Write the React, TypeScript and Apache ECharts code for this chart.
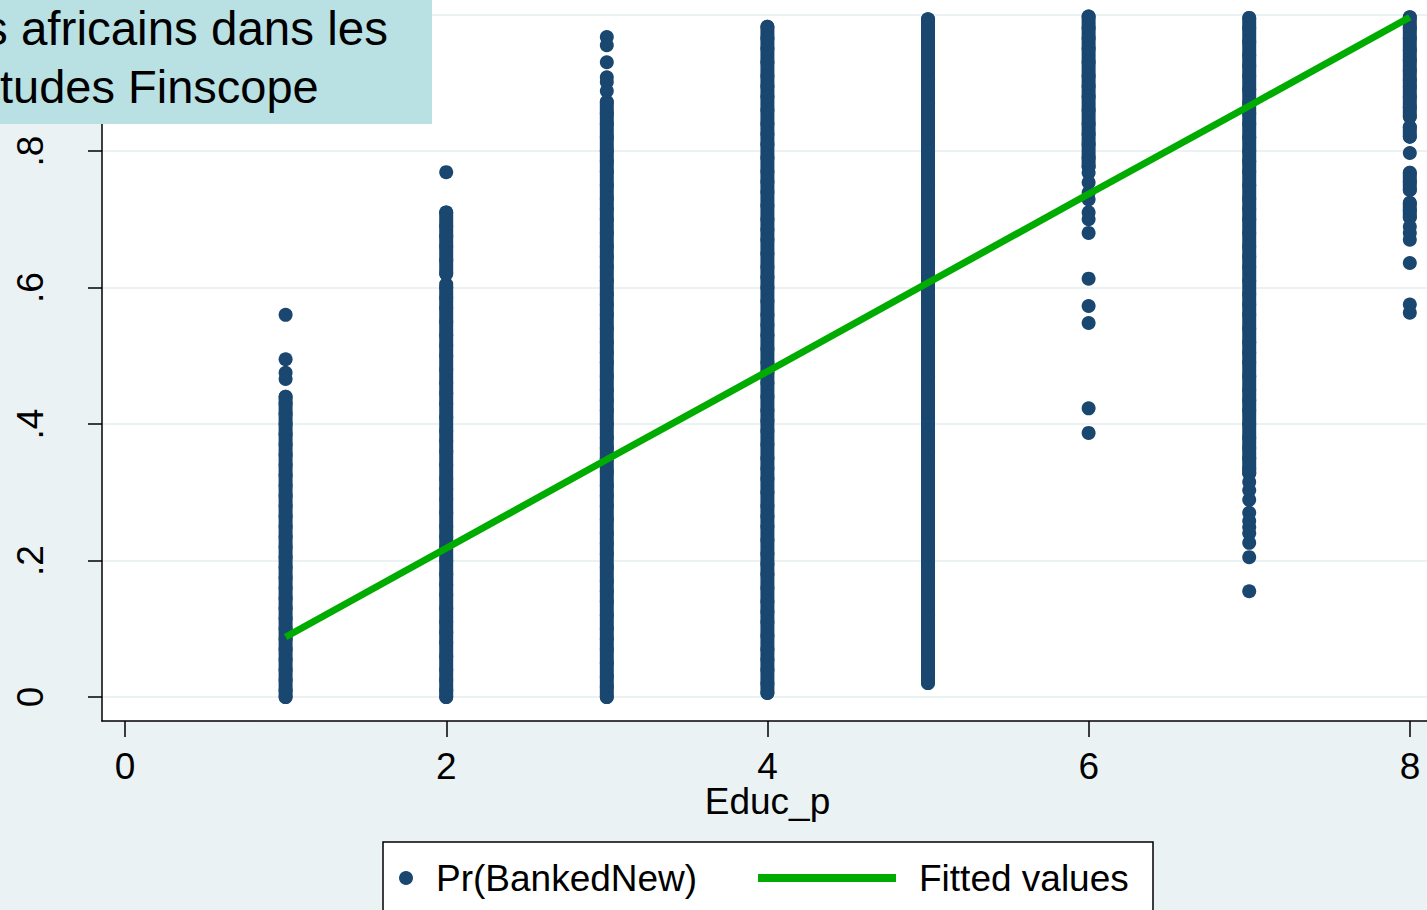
import React, { useEffect, useRef } from "react";
import * as echarts from "echarts";

// Education level categories (x positions)
const educLevels = [1, 2, 3, 4, 5, 6, 7, 8];

const prEduc1 = [0.56, 0.495, 0.475, 0.466, 0.44, 0.43, 0.415, 0.4, 0.385, 0.37, 0.355, 0.34, 0.325, 0.31, 0.295, 0.28, 0.265, 0.25, 0.235, 0.22, 0.205, 0.19, 0.175, 0.16, 0.145, 0.13, 0.115, 0.1, 0.085, 0.07, 0.055, 0.04, 0.025, 0.01, 0.0];
const prEduc2 = [0.769, 0.71, 0.69, 0.675, 0.66, 0.64, 0.62, 0.6, 0.585, 0.57, 0.55, 0.53, 0.515, 0.5, 0.48, 0.46, 0.445, 0.43, 0.41, 0.39, 0.375, 0.36, 0.34, 0.32, 0.305, 0.29, 0.27, 0.25, 0.235, 0.22, 0.2, 0.18, 0.165, 0.15, 0.13, 0.11, 0.095, 0.08, 0.06, 0.04, 0.025, 0.01, 0.0];
const prEduc3 = [0.967, 0.955, 0.93, 0.908, 0.901, 0.888, 0.872, 0.855, 0.84, 0.82, 0.8, 0.785, 0.77, 0.75, 0.73, 0.715, 0.7, 0.68, 0.66, 0.645, 0.63, 0.61, 0.59, 0.575, 0.56, 0.54, 0.52, 0.505, 0.49, 0.47, 0.45, 0.435, 0.42, 0.4, 0.38, 0.365, 0.35, 0.33, 0.31, 0.295, 0.28, 0.26, 0.24, 0.225, 0.21, 0.19, 0.17, 0.155, 0.14, 0.12, 0.1, 0.085, 0.07, 0.05, 0.03, 0.015, 0.0];
const prEduc4 = [0.982, 0.965, 0.95, 0.93, 0.91, 0.895, 0.88, 0.86, 0.84, 0.825, 0.81, 0.79, 0.77, 0.755, 0.74, 0.72, 0.7, 0.685, 0.67, 0.65, 0.63, 0.615, 0.6, 0.58, 0.56, 0.545, 0.53, 0.51, 0.49, 0.475, 0.46, 0.44, 0.42, 0.405, 0.39, 0.37, 0.35, 0.335, 0.32, 0.3, 0.28, 0.265, 0.25, 0.23, 0.21, 0.195, 0.18, 0.16, 0.14, 0.125, 0.11, 0.09, 0.07, 0.055, 0.04, 0.02, 0.006];
const prEduc5 = [0.993, 0.975, 0.96, 0.94, 0.92, 0.905, 0.89, 0.87, 0.85, 0.835, 0.82, 0.8, 0.78, 0.765, 0.75, 0.73, 0.71, 0.695, 0.68, 0.66, 0.64, 0.625, 0.61, 0.59, 0.57, 0.555, 0.54, 0.52, 0.5, 0.485, 0.47, 0.45, 0.43, 0.415, 0.4, 0.38, 0.36, 0.345, 0.33, 0.31, 0.29, 0.275, 0.26, 0.24, 0.22, 0.205, 0.19, 0.17, 0.15, 0.135, 0.12, 0.1, 0.08, 0.065, 0.05, 0.035, 0.0205];
const prEduc6 = [0.997, 0.98, 0.965, 0.95, 0.93, 0.91, 0.895, 0.88, 0.86, 0.84, 0.825, 0.81, 0.79, 0.777, 0.768, 0.754, 0.739, 0.729, 0.71, 0.7, 0.68, 0.613, 0.573, 0.548, 0.423, 0.387];
const prEduc7 = [0.995, 0.98, 0.96, 0.94, 0.925, 0.91, 0.89, 0.87, 0.855, 0.84, 0.82, 0.8, 0.785, 0.77, 0.75, 0.73, 0.715, 0.7, 0.68, 0.66, 0.645, 0.63, 0.61, 0.59, 0.575, 0.56, 0.54, 0.52, 0.505, 0.49, 0.47, 0.45, 0.435, 0.42, 0.4, 0.38, 0.365, 0.35, 0.335, 0.328, 0.315, 0.303, 0.289, 0.27, 0.258, 0.249, 0.24, 0.226, 0.205, 0.155];
const prEduc8 = [0.996, 0.98, 0.965, 0.948, 0.933, 0.918, 0.904, 0.894, 0.879, 0.864, 0.85, 0.835, 0.821, 0.797, 0.768, 0.755, 0.743, 0.724, 0.713, 0.703, 0.689, 0.68, 0.67, 0.636, 0.575, 0.563];

// Dense runs of overlapping observations (education level, lowest, highest)
const runEduc = [1, 2, 2, 3, 4, 5, 6, 7, 8, 8, 8, 8];
const runLow = [0.0, 0.0, 0.62, 0.0, 0.006, 0.0205, 0.777, 0.328, 0.85, 0.821, 0.743, 0.703];
const runHigh = [0.44, 0.605, 0.71, 0.872, 0.982, 0.993, 0.997, 0.995, 0.996, 0.835, 0.768, 0.724];

// Fitted values at each education level
const fittedValues = [0.088, 0.218, 0.348, 0.477, 0.607, 0.737, 0.866, 0.996];

// Tick labels
const xTicks = [0, 2, 4, 6, 8];
const yTickLabels: Record<string, string> = { "0": "0", "0.2": ".2", "0.4": ".4", "0.6": ".6", "0.8": ".8", "1": "1" };

const titleLines = ["s africains dans les", "tudes Finscope"];
const seriesNames = ["Pr(BankedNew)", "Fitted values"];
const xName = "Educ_p";

const FONT = "'Liberation Sans', Arial, sans-serif";
const NAVY = "#1a476f";
const GREEN = "#00ac00";
const BG = "#eaf2f3";
const MARKER = 14;

export default function App() {
  const ref = useRef<HTMLDivElement>(null);
  useEffect(() => {
    if (!ref.current) return;
    const chart = echarts.init(ref.current, null, { renderer: "svg" });
    const columns = [prEduc1, prEduc2, prEduc3, prEduc4, prEduc5, prEduc6, prEduc7, prEduc8];
    const scatterData: number[][] = [];
    columns.forEach((col, i) => col.forEach((v) => scatterData.push([educLevels[i], v])));
    const lineData = educLevels.map((x, i) => [x, fittedValues[i]]);
    const runData = runEduc.map((x, i) => [x, runLow[i], runHigh[i]]);

    const option: any = {
      animation: false,
      backgroundColor: BG,
      textStyle: { fontFamily: FONT },
      grid: [
        { left: 102, right: 0, top: 0, bottom: 189, show: true, backgroundColor: "#ffffff", borderWidth: 0 },
        { left: 125, right: 17, top: 0, bottom: 189, show: false },
        { left: 102, right: 0, top: 14.5, bottom: 213, show: false },
      ],
      xAxis: [
        {
          gridIndex: 0, type: "value", min: -0.1432, max: 8.107,
          axisLine: { show: true, onZero: false, lineStyle: { color: "#000", width: 1.5 } },
          axisTick: { show: false }, axisLabel: { show: false }, splitLine: { show: false },
        },
        {
          gridIndex: 1, type: "value", min: xTicks[0], max: xTicks[xTicks.length - 1], interval: 2,
          name: xName, nameLocation: "middle", nameGap: 64, nameMoveOverlap: false,
          nameTextStyle: { fontSize: 37, lineHeight: 33, color: "#000", fontFamily: FONT },
          axisLine: { show: false, onZero: false },
          axisTick: { show: true, length: 16, lineStyle: { color: "#000", width: 1.5 } },
          axisLabel: { show: true, fontSize: 37, lineHeight: 33, color: "#000", margin: 29, fontFamily: FONT },
          splitLine: { show: false },
        },
        { gridIndex: 2, type: "value", min: 0, max: 8, show: false },
      ],
      yAxis: [
        {
          gridIndex: 0, type: "value", min: -0.035, max: 1.0212,
          axisLine: { show: true, onZero: false, lineStyle: { color: "#000", width: 1.5 } },
          axisTick: { show: false }, axisLabel: { show: false }, splitLine: { show: false },
        },
        { gridIndex: 1, type: "value", min: 0, max: 1, show: false },
        {
          gridIndex: 2, type: "value", min: 0, max: 1, interval: 0.2,
          axisLine: { show: false, onZero: false },
          axisTick: { show: true, length: 14, lineStyle: { color: "#000", width: 1.5 } },
          axisLabel: {
            show: true, rotate: 90, fontSize: 37, color: "#000", margin: 53, fontFamily: FONT,
            showMaxLabel: false,
            formatter: (v: number) => yTickLabels[String(Number(v.toFixed(1)))] ?? String(v),
          },
          splitLine: { show: true, lineStyle: { color: BG, width: 2 } },
        },
      ],
      legend: [
        {
          data: [{ name: seriesNames[0], icon: "circle" }],
          left: 399, top: 858, itemWidth: 50, itemHeight: 14, padding: 0,
          textStyle: { fontSize: 37, color: "#000", fontFamily: FONT, lineHeight: 40 },
          selectedMode: false,
        },
        {
          data: [{ name: seriesNames[1], icon: "rect" }],
          left: 758, top: 858, itemWidth: 138, itemHeight: 8, padding: 0,
          textStyle: { fontSize: 37, color: "#000", fontFamily: FONT, lineHeight: 40, padding: [0, 0, 0, 18] },
          selectedMode: false,
        },
      ],
      graphic: [
        {
          type: "rect", z: 1, silent: true,
          shape: { x: 383, y: 842, width: 770, height: 100 },
          style: { fill: "#ffffff", stroke: "#000", lineWidth: 1.5 },
        },
        {
          type: "group", z: 100, silent: true,
          children: [
            { type: "rect", z: 100, shape: { x: 0, y: 0, width: 432, height: 124 }, style: { fill: "#b9e1e4" } },
            { type: "text", z: 101, x: -16, y: 28, style: { text: titleLines[0], fill: "#000", font: `47.5px ${FONT}`, verticalAlign: "middle" } },
            { type: "text", z: 101, x: 0, y: 86, style: { text: titleLines[1], fill: "#000", font: `47px ${FONT}`, verticalAlign: "middle" } },
          ],
        },
      ],
      series: [
        {
          name: "runs", type: "custom", xAxisIndex: 0, yAxisIndex: 0, z: 2, silent: true,
          data: runData,
          renderItem: (params: any, api: any) => {
            const top = api.coord([api.value(0), api.value(2)]);
            const bot = api.coord([api.value(0), api.value(1)]);
            const r = MARKER / 2;
            return {
              type: "rect",
              shape: { x: top[0] - r, y: top[1] - r, width: MARKER, height: bot[1] - top[1] + MARKER, r },
              style: { fill: NAVY },
            };
          },
        },
        {
          name: seriesNames[0], type: "scatter", xAxisIndex: 0, yAxisIndex: 0,
          data: scatterData, symbol: "circle", symbolSize: MARKER,
          itemStyle: { color: NAVY, opacity: 1 }, z: 2,
        },
        {
          name: seriesNames[1], type: "line", xAxisIndex: 0, yAxisIndex: 0,
          data: lineData, symbol: "none", color: GREEN,
          itemStyle: { color: GREEN },
          lineStyle: { color: GREEN, width: 7 }, z: 3,
        },
      ],
    };
    chart.setOption(option);
    return () => chart.dispose();
  }, []);
  return <div ref={ref} style={{ position: "fixed", left: 0, top: 0, width: 1427, height: 910 }} />;
}
